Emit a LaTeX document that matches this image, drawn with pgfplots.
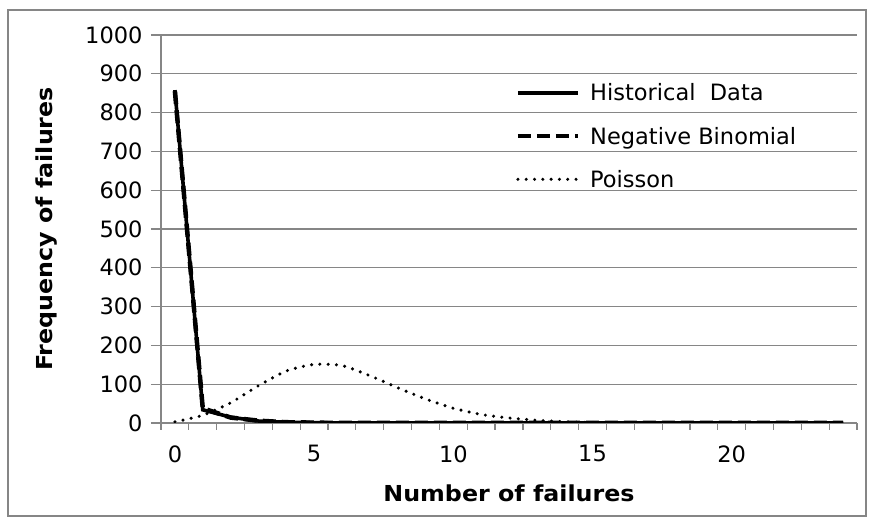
\documentclass[border=0pt]{standalone}
\usepackage{fontspec}
\setmainfont{DejaVu Sans}[BoldFeatures={FakeStretch=1.08}]
\usepackage{pgfplots}
\pgfplotsset{compat=1.18}
\definecolor{gridgray}{RGB}{134,134,134}
\definecolor{framegray}{RGB}{134,134,134}
\begin{document}
\begin{tikzpicture}
\path[use as bounding box] (-161pt,-103pt) rectangle (713pt,423pt);
\draw[framegray, line width=1.2pt] (-153pt,-93pt) rectangle (705pt,413pt);
\begin{axis}[
  at={(0pt,0pt)}, anchor=south west,
  scale only axis, width=696pt, height=388pt,
  xmin=-0.5, xmax=24.5, ymin=0, ymax=1000,
  axis x line*=bottom, axis y line*=left,
  axis line style={gridgray, line width=1.2pt, -},
  xtick={0,5,10,15,20},
  minor xtick={-0.5,0.5,...,24.5},
  ytick={0,100,...,1000},
  major x tick style={draw=none},
  minor x tick style={gridgray, line width=1.2pt},
  major y tick style={gridgray, line width=1.2pt},
  tick align=outside,
  major tick length=10pt, minor tick length=7pt,
  ymajorgrids, major grid style={gridgray, line width=1.2pt},
  /pgf/number format/assume math mode=true,
  /pgf/number format/set thousands separator={},
  tick label style={font=\fontsize{22.5}{26}\selectfont},
  xticklabel style={yshift=-9pt},
  yticklabel style={xshift=-5pt},
  label style={font=\fontsize{22}{26}\selectfont\bfseries},
  xlabel={Number of failures},
  ylabel={Frequency of failures},
  xlabel style={at={(0.5,-0.182)}, anchor=center},
  ylabel style={at={(-0.165,0.5)}, anchor=center},
  legend style={draw=none, fill=none, at={(0.505,0.885)}, anchor=north west,
    font=\fontsize{22.5}{26}\selectfont, row sep=20.5pt,
    legend cell align=left,
    /tikz/every odd column/.append style={column sep=8pt}},
  legend image code/.code={\draw[#1] (0pt,0pt) -- (60pt,0pt);},
]
\addplot[black, line width=3.6pt] coordinates {
(0,858) (1,34) (2,15) (3,5) (4,2) (5,1) (6,0) (7,0) (8,0) (9,0) (10,0) (11,0) (12,0)
(13,0) (14,0) (15,0) (16,0) (17,0) (18,0) (19,0) (20,0) (21,0) (22,0) (23,0) (24,0)};
\addlegendentry{Historical\ \ Data}
\addplot[black, line width=4.5pt, dash pattern=on 13pt off 6pt] coordinates {
(0,855) (1,38) (2,14) (3,6) (4,2) (5,1) (6,0) (7,0) (8,0) (9,0) (10,0) (11,0) (12,0)
(13,0) (14,0) (15,0) (16,0) (17,0) (18,0) (19,0) (20,0) (21,0) (22,0) (23,0) (24,0)};
\addlegendentry{Negative Binomial}
\addplot[black, line width=3.4pt, line cap=round, dash pattern=on 0pt off 8.3pt, smooth, tension=0.4] coordinates {
(0,3) (1,20) (2,52) (3,96) (4,134) (5,151) (6,148) (7,122) (8,91) (9,62) (10,38) (11,22)
(12,13) (13,7) (14,3) (15,1) (16,0) (17,0) (18,0) (19,0) (20,0) (21,0) (22,0) (23,0) (24,0)};
\addlegendentry{Poisson}
\end{axis}
\end{tikzpicture}
\end{document}
